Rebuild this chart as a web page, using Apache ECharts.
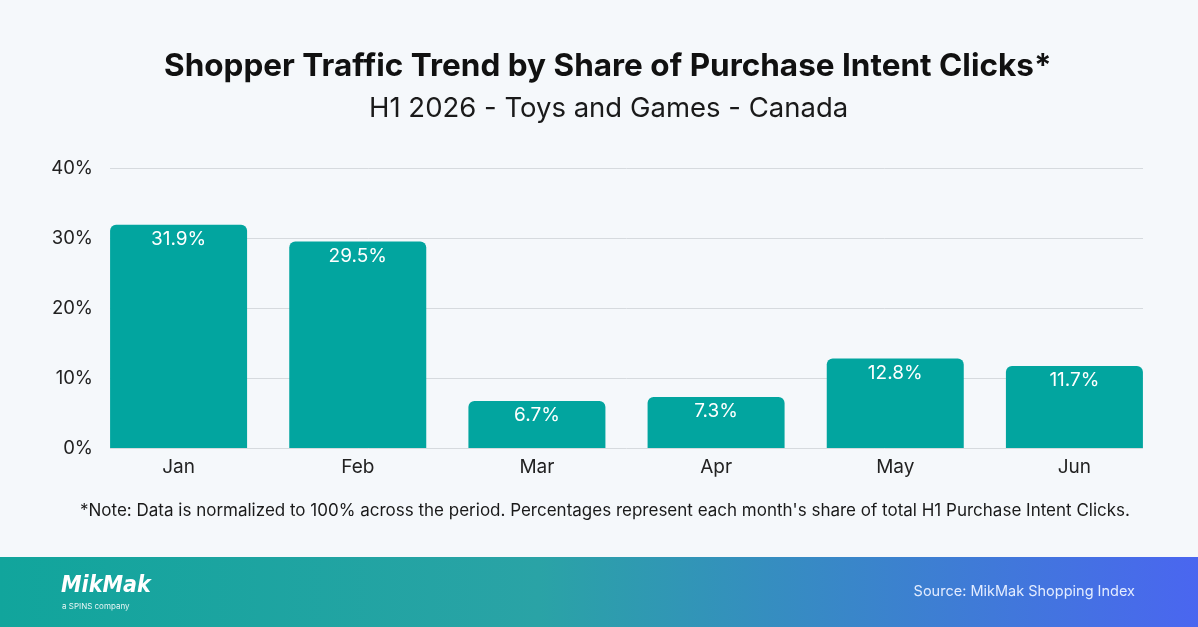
<!doctype html>
<html>
	<head>
		<meta charset="utf-8">
		<title>Shopper Traffic Trend</title>
		<style>
			html, body { margin: 0; padding: 0; background: #f5f8fb; }
		</style>
	</head>
	<body>
		<div id="container" style="height: 627px; width: 1198px;"></div>

		<script src="https://cdn.jsdelivr.net/npm/echarts@6/dist/echarts.min.js"></script>

		<script>
			// months and their share of H1 purchase intent clicks (%)
			const months = ['Jan', 'Feb', 'Mar', 'Apr', 'May', 'Jun'];
			const share = [31.9, 29.5, 6.7, 7.3, 12.8, 11.7];
			const yTicks = [0, 10, 20, 30, 40];

			const font = 'Inter, "Noto Sans", sans-serif';
			const dom = document.getElementById('container');
			const myChart = echarts.init(dom, null, { renderer: 'canvas' });

			let opts = {
				backgroundColor: '#f5f8fb',
				animation: false,
				textStyle: { fontFamily: font },
				title: [
					{
						text: 'Shopper Traffic Trend by Share of Purchase Intent Clicks*',
						left: 159,
						top: 46,
						textStyle: { fontSize: 31.5, fontWeight: 'bold', color: '#111', fontFamily: font }
					},
					{
						text: 'H1 2026 - Toys and Games - Canada',
						left: 364,
						top: 90,
						textStyle: { fontSize: 27.5, fontWeight: 'normal', color: '#1a1a1a', fontFamily: font }
					}
				],
				grid: [
					// grid for the gridlines and y labels
					{ left: 110, right: 55, top: 168, bottom: 179 },
					// grid for the bars (wider so bars sit flush with the gridlines)
					{ left: 89, right: 34, top: 168, bottom: 179 }
				],
				xAxis: [
					{ gridIndex: 0, type: 'value', min: 0, max: 1, show: false },
					{
						gridIndex: 1,
						type: 'category',
						data: months,
						axisLine: { show: false },
						axisTick: { show: false },
						axisLabel: { fontSize: 19, color: '#222', margin: 10, fontFamily: font }
					}
				],
				yAxis: [
					{
						gridIndex: 0,
						type: 'value',
						min: yTicks[0],
						max: yTicks[yTicks.length - 1],
						interval: 10,
						axisLine: { show: false },
						axisTick: { show: false },
						axisLabel: { formatter: '{value}%', fontSize: 18.5, color: '#222', margin: 17, fontFamily: font },
						splitLine: { lineStyle: { color: '#d6dade', width: 1 } }
					},
					{ gridIndex: 1, type: 'value', min: 0, max: 40, show: false }
				],
				series: [
					{
						type: 'bar',
						xAxisIndex: 1,
						yAxisIndex: 1,
						data: share,
						barWidth: 137,
						itemStyle: { color: '#02a59f', borderRadius: [6, 6, 0, 0] },
						label: {
							show: true,
							position: 'insideTop',
							distance: 5,
							formatter: p => p.value.toFixed(1) + '%',
							color: '#fff',
							fontSize: 19,
							fontFamily: font
						}
					}
				],
				graphic: [
					{
						type: 'text',
						x: 80,
						top: 502,
						style: {
							text: "*Note: Data is normalized to 100% across the period. Percentages represent each month's share of total H1 Purchase Intent Clicks.",
							fill: '#1a1a1a',
							font: '17px ' + font
						}
					},
					{
						type: 'rect',
						shape: { x: 0, y: 557, width: 1198, height: 70 },
						style: {
							fill: new echarts.graphic.LinearGradient(0, 0, 1, 0, [
								{ offset: 0, color: '#11a59c' },
								{ offset: 0.45, color: '#2aa3a6' },
								{ offset: 1, color: '#4a66f0' }
							])
						}
					},
					{
						type: 'text',
						x: 61,
						y: 575,
						style: { text: 'MikMak', fill: '#fff', font: 'italic bold 23px "DejaVu Sans Condensed", sans-serif' }
					},
					{
						type: 'text',
						x: 62,
						y: 603,
						style: { text: 'a SPINS company', fill: '#e8f6f5', font: '8px ' + font }
					},
					{
						type: 'text',
						right: 63,
						top: 584,
						style: { text: 'Source: MikMak Shopping Index', fill: '#e3ecff', font: '14.5px ' + font }
					}
				]
			};

			myChart.setOption(opts, true);
		</script>
	</body>
</html>
